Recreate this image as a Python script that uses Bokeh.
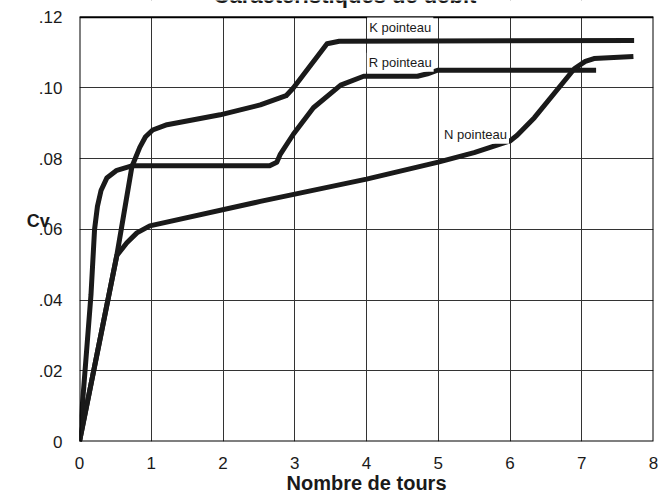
from bokeh.plotting import figure
from bokeh.models import Range1d, FixedTicker, Label, BoxAnnotation
from bokeh.embed import file_html
from bokeh.resources import INLINE

# Data
k_x = [0, 0.52, 0.73, 0.84, 0.92, 1.02, 1.22, 1.96, 2.52, 2.88, 2.98, 3.45, 3.62, 7.73]
k_y = [0, 0.0526, 0.0777, 0.0832, 0.0862, 0.0881, 0.0896, 0.0924, 0.0952, 0.0978, 0.1000, 0.1125, 0.1132, 0.1134]

r_x = [0, 0.16, 0.21, 0.25, 0.30, 0.38, 0.52, 0.74, 2.65, 2.75, 2.8, 2.98, 3.26, 3.64, 3.96, 4.71, 4.85, 4.99, 7.2]
r_y = [0, 0.0415, 0.0600, 0.0665, 0.0710, 0.0745, 0.0767, 0.0780, 0.0780, 0.0790, 0.0813, 0.0869, 0.0944, 0.1008, 0.1033, 0.1033, 0.1040, 0.1050, 0.1050]

n_x = [0, 0.52, 0.66, 0.8, 0.98, 2.52, 4.0, 5.0, 5.5, 6.0, 6.1, 6.34, 6.9, 7.05, 7.17, 7.72]
n_y = [0, 0.0526, 0.0562, 0.0590, 0.0610, 0.0679, 0.0742, 0.0790, 0.0817, 0.0850, 0.0866, 0.0916, 0.1055, 0.1075, 0.1083, 0.1089]

x_ticks = [0, 1, 2, 3, 4, 5, 6, 7, 8]
y_ticks = [0, 0.02, 0.04, 0.06, 0.08, 0.10, 0.12]
y_tick_labels = ["0", ".02", ".04", ".06", ".08", ".10", ".12"]

series_names = ["K pointeau", "R pointeau", "N pointeau"]
label_x = [4.47, 4.47, 5.52]
label_y = [0.1172, 0.1073, 0.0869]

title_text = "Caractéristiques de débit"

FONT = "Liberation Sans"

# The frame reaches the top of the canvas so that the (cut-off) title can be drawn
p = figure(width=669, height=496, x_range=Range1d(0, 8), y_range=Range1d(0, 0.12473),
           output_backend="svg", toolbar_location=None,
           min_border_left=79, min_border_right=16, min_border_top=0, min_border_bottom=48)

p.background_fill_color = "white"
p.border_fill_color = "white"
p.outline_line_color = None

p.xaxis.ticker = FixedTicker(ticks=x_ticks)
p.yaxis.ticker = FixedTicker(ticks=y_ticks)
p.yaxis.major_label_overrides = {t: l for t, l in zip(y_ticks, y_tick_labels)}
p.yaxis.bounds = (y_ticks[0], y_ticks[-1])

for ax in (p.xaxis, p.yaxis):
    ax.axis_line_color = None
    ax.major_tick_line_color = None
    ax.minor_tick_line_color = None
    ax.major_label_text_font = FONT
    ax.major_label_text_font_size = "17px"
    ax.major_label_text_color = "#1a1a1a"
    ax.axis_label_text_font = FONT
    ax.axis_label_text_font_style = "bold"
    ax.axis_label_text_color = "#1a1a1a"
p.xaxis.major_label_standoff = 9
p.yaxis.major_label_standoff = 11

p.xaxis.axis_label = "Nombre de tours"
p.xaxis.axis_label_text_font_size = "20px"
p.xaxis.axis_label_standoff = 0

p.yaxis.axis_label = "Cv"
p.yaxis.axis_label_text_font_size = "18px"
p.yaxis.axis_label_orientation = "horizontal"
p.yaxis.axis_label_standoff = -14

p.xgrid.ticker = FixedTicker(ticks=x_ticks)
p.ygrid.ticker = FixedTicker(ticks=y_ticks)
for g in (p.xgrid, p.ygrid):
    g.grid_line_color = "#333333"
    g.grid_line_width = 1
    g.grid_line_alpha = 1

for xs, ys in ((n_x, n_y), (r_x, r_y), (k_x, k_y)):
    p.line(xs, ys, line_color="#1a1a1a", line_width=5, line_join="round", line_cap="butt")

# white cover above the chart area, then the chart border
p.add_layout(BoxAnnotation(bottom=y_ticks[-1], fill_color="white", fill_alpha=1,
                           line_color=None))
p.add_layout(BoxAnnotation(left=x_ticks[0], right=x_ticks[-1], bottom=y_ticks[0], top=y_ticks[-1],
                           fill_alpha=0, line_color="black", line_width=2, line_alpha=1))

# Title, mostly cut off by the top edge as in the reference
p.add_layout(Label(x=3.7, y=0.1262, text=title_text,
                   text_font=FONT, text_font_size="22px", text_font_style="bold",
                   text_align="center", text_baseline="alphabetic", text_color="#1a1a1a"))

for name, lx, ly in zip(series_names, label_x, label_y):
    p.add_layout(Label(x=lx, y=ly, text=name, text_font=FONT, text_font_size="13px",
                       text_align="center", text_baseline="middle", text_color="#1a1a1a",
                       background_fill_color="white", padding=2))

open("out.html", "w").write(file_html(p, INLINE))
